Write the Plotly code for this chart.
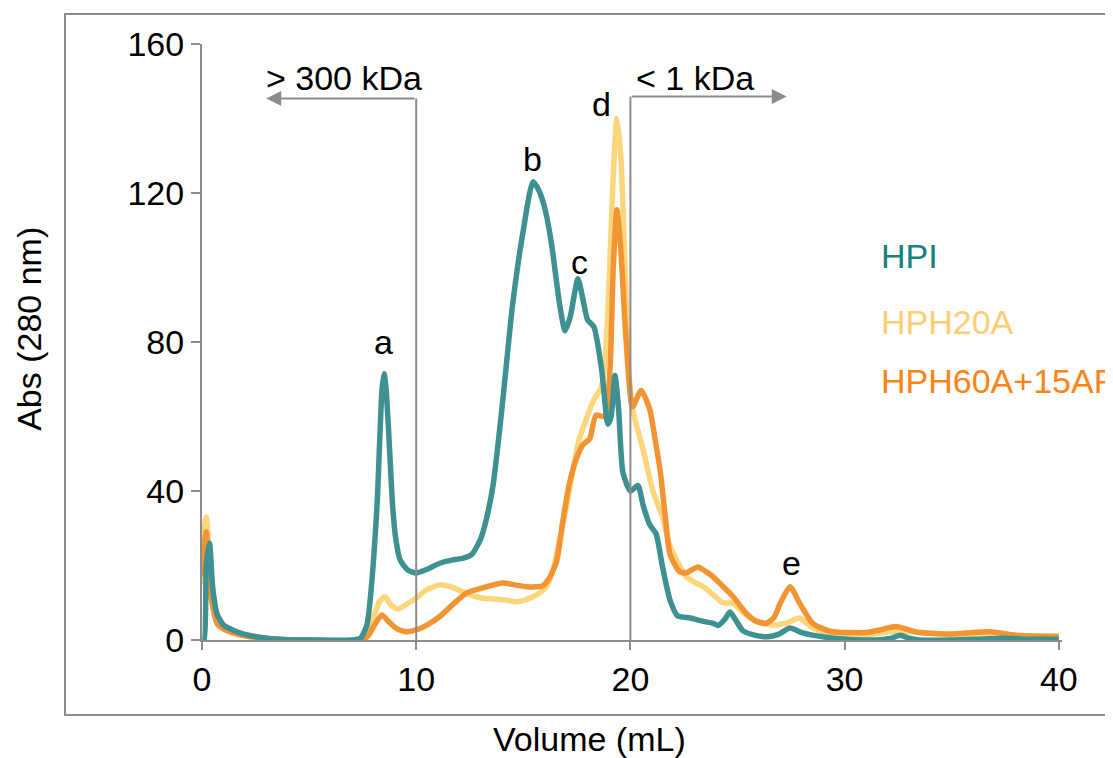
import plotly.graph_objects as go

# ---- data ----
hpi_x = [0.0, 0.1, 0.2, 0.35, 0.5, 0.7, 1.0, 1.5, 2.0, 3.0, 4.0, 5.0, 7.0, 7.4, 7.7, 7.85, 8.17, 8.4, 8.5,
         8.6, 8.75, 8.9, 9.05, 9.25, 9.6, 10.0, 10.5, 11.1, 11.7, 12.2, 12.6, 13.0, 13.3, 13.6, 14.0, 14.5, 15.0,
         15.45, 15.7, 16.0, 16.3, 16.7, 16.95, 17.2, 17.55, 17.8, 18.0, 18.3, 18.65, 18.95, 19.1, 19.28,
         19.45, 19.65, 20.0, 20.35, 20.6, 20.9, 21.2, 21.5, 21.85, 22.2, 22.8, 23.4, 23.85, 24.1, 24.4,
         24.65, 24.9, 25.25, 25.8, 26.4, 26.9, 27.45, 28.0, 28.5, 29.5, 30.5, 31.5, 32.2, 32.6, 33.0, 33.5,
         35.0, 36.5, 37.5, 38.5, 40.0]
hpi_y = [0, 0, 20, 26, 14, 7, 4, 2.5, 1.5, 0.5, 0.1, 0, 0, 0.5, 4, 10.7, 36, 67, 71.5,
         67, 52, 36, 27, 21.5, 18.8, 18, 19, 20.6, 21.5, 22, 23, 27, 33, 42, 62, 90, 110,
         123, 121, 116, 107, 90, 83, 87, 97, 91, 86, 84, 73, 58, 60, 71,
         62, 45, 40, 41.5, 36, 31, 28.5, 19.6, 10.7, 6.5, 5.9, 5, 4.5, 3.9, 5.5,
         7.5, 5.5, 2.5, 1.3, 0.9, 1.5, 3.2, 2.0, 1.3, 0.5, 0.1, 0, 0.5, 1.3, 0.5, 0,
         0, 0.3, 0.5, 0.2, 0.2]

hph20_x = [0.0, 0.1, 0.2, 0.35, 0.5, 0.7, 1.0, 1.5, 2.0, 3.0, 4.0, 5.0, 7.2, 7.6, 8.0, 8.3, 8.55, 8.8, 9.15,
           9.6, 10.0, 10.5, 11.1, 11.6, 12.2, 12.7, 13.1, 13.6, 14.2, 14.7, 15.1, 15.45, 15.8, 16.1, 16.4,
           16.7, 17.0, 17.3, 17.6, 17.95, 18.25, 18.65, 18.85, 19.0, 19.2, 19.37, 19.55, 19.75, 19.9, 20.1,
           20.6, 21.05, 21.5, 21.8, 22.2, 22.6, 23.0, 23.4, 23.9, 24.3, 24.8, 25.3, 25.9, 26.4, 26.8, 27.4,
           27.9, 28.3, 28.7, 29.3, 29.8, 31.0, 31.6, 32.1, 33.0, 33.5, 34.5, 35.7, 37.2, 38.5, 40.0]
hph20_y = [15, 30, 33, 22, 12, 7, 4, 2.2, 1.2, 0.4, 0.1, 0, 0, 1, 6, 10.5, 11.6, 9.5, 8.3,
           9.8, 11.3, 13.5, 14.8, 14.3, 12.9, 11.8, 11.2, 11.0, 10.7, 10.3, 10.8, 11.6, 12.8, 14.5, 19,
           27, 35.5, 45, 53.7, 59.5, 64, 68, 78, 95, 125, 140, 130, 100, 75, 62,
           51, 40, 33, 26, 21, 17, 15.5, 14.3, 12, 10, 9.9, 7.2, 4.9, 4.2, 4.0, 4.8,
           5.9, 4.2, 2.7, 1.8, 1.3, 1.3, 1.8, 2.2, 2.2, 2.0, 1.6, 1.3, 1.0, 0.7, 0.5]

hph60_x = [0.0, 0.1, 0.2, 0.37, 0.7, 1.0, 1.45, 2.0, 2.7, 4.0, 5.0, 7.5, 7.8, 8.1, 8.4, 8.7, 9.1, 9.55,
           10.0, 10.5, 11.1, 11.7, 12.35, 13.1, 14.05, 14.6, 15.15, 15.6, 15.9, 16.2, 16.55, 16.85, 17.15,
           17.5, 17.8, 18.1, 18.4, 18.8, 19.05, 19.2, 19.37, 19.55, 19.8, 20.1, 20.5, 20.9, 21.15, 21.4,
           21.65, 21.85, 22.3, 22.6, 23.15, 23.5, 23.85, 24.3, 24.8, 25.4, 25.9, 26.35, 26.7, 27.0, 27.45,
           27.9, 28.5, 29.0, 29.45, 31.0, 31.65, 32.4, 33.0, 33.5, 34.9, 36.0, 36.8, 38.0, 40.0]
hph60_y = [17, 25, 29, 13.4, 4.5, 3, 1.9, 1.1, 0.6, 0.1, 0, 0, 1.5, 4.5, 6.7, 5, 3, 2.2,
           2.7, 4, 6.3, 9.5, 12.6, 14, 15.3, 14.8, 14.3, 14.3, 14.5, 16.5, 21, 32, 42,
           49, 52.5, 54, 60.4, 60, 73, 100, 115.5, 105, 80.5, 62.6, 67, 62, 54, 45,
           32, 23, 18.3, 18, 19.6, 18.5, 17, 14.5, 11.6, 7.2, 5, 4.5, 6, 9.9, 14.3,
           9.9, 4.5, 3, 2.2, 2.0, 2.7, 3.6, 2.7, 2.0, 1.6, 2.0, 2.2, 1.3, 1.0]

series_names = ["HPI", "HPH20A", "HPH60A+15AF"]
line_colors = ["#3e9190", "#fdd57b", "#f39433"]
label_colors = ["#14827e", "#fdcd72", "#fb8414"]
legend_y = [103, 85.5, 69.5]

peak_labels = ["a", "b", "c", "d", "e"]
peak_x = [8.45, 15.45, 17.64, 18.67, 27.5]
peak_y = [80, 129, 101.5, 143.8, 20.8]

x_ticks = [0, 10, 20, 30, 40]
y_ticks = [0, 40, 80, 120, 160]

FONT = "Liberation Sans, Arial, sans-serif"
GRAY = "#8c8c8c"
FS = 34

fig = go.Figure()
traces = [(hpi_x, hpi_y), (hph20_x, hph20_y), (hph60_x, hph60_y)]
for idx in [1, 2, 0]:
    xs, ys = traces[idx]
    fig.add_trace(go.Scatter(
        x=xs, y=ys, mode="lines", name=series_names[idx],
        line=dict(color=line_colors[idx], width=5.5, shape="spline", smoothing=0.6),
        showlegend=False, hoverinfo="skip"))

annotations = []
# legend as colored text
for name, col, yy in zip(series_names, label_colors, legend_y):
    annotations.append(dict(x=31.62, y=yy, xref="x", yref="y", text=name, showarrow=False,
                            xanchor="left", yanchor="middle",
                            font=dict(family=FONT, size=FS, color=col)))
# peak letters
for t, px, py in zip(peak_labels, peak_x, peak_y):
    annotations.append(dict(x=px, y=py, xref="x", yref="y", text=t, showarrow=False,
                            xanchor="center", yanchor="middle",
                            font=dict(family=FONT, size=FS, color="black")))
# fraction arrows
annotations.append(dict(x=3.0, y=145.4, ax=10, ay=145.4, xref="x", yref="y", axref="x", ayref="y",
                        text="", showarrow=True, arrowhead=2, arrowsize=1.5, arrowwidth=2,
                        arrowcolor=GRAY))
annotations.append(dict(x=27.3, y=145.9, ax=20, ay=145.9, xref="x", yref="y", axref="x", ayref="y",
                        text="", showarrow=True, arrowhead=2, arrowsize=1.5, arrowwidth=2,
                        arrowcolor=GRAY))
annotations.append(dict(x=6.63, y=150.8, xref="x", yref="y", text="> 300 kDa", showarrow=False,
                        xanchor="center", yanchor="middle",
                        font=dict(family=FONT, size=FS, color="black")))
annotations.append(dict(x=23.0, y=150.8, xref="x", yref="y", text="< 1 kDa", showarrow=False,
                        xanchor="center", yanchor="middle",
                        font=dict(family=FONT, size=FS, color="black")))
# axis titles
annotations.append(dict(x=-0.2012, y=0.522, xref="paper", yref="paper", text="Abs (280 nm)",
                        showarrow=False, textangle=-90, xanchor="center", yanchor="middle",
                        font=dict(family=FONT, size=FS, color="black")))
annotations.append(dict(x=0.45, y=-0.166, xref="paper", yref="paper", text="Volume (mL)",
                        showarrow=False, xanchor="center", yanchor="middle",
                        font=dict(family=FONT, size=FS, color="black")))

shapes = [
    dict(type="line", xref="x", yref="y", x0=10, x1=10, y0=0, y1=145.4,
         line=dict(color=GRAY, width=2)),
    dict(type="line", xref="x", yref="y", x0=20, x1=20, y0=0, y1=145.9,
         line=dict(color=GRAY, width=2)),
    dict(type="rect", xref="paper", yref="paper", x0=-0.1593, x1=1.2, y0=-0.1258, y1=1.0503,
         line=dict(color=GRAY, width=2), layer="below"),
]

# page body has an 8px margin, so the figure is shifted by 8px; compensate
fig.update_layout(
    width=1105, height=750,
    margin=dict(l=194, r=51, t=36, b=118, pad=0),
    paper_bgcolor="white", plot_bgcolor="white",
    font=dict(family=FONT, size=FS, color="black"),
    annotations=annotations, shapes=shapes,
    showlegend=False,
)
fig.update_xaxes(range=[0, 40.15], tickvals=x_ticks, ticks="outside", ticklen=8, tickwidth=2,
                 tickcolor=GRAY, showline=True, linecolor=GRAY, linewidth=2, showgrid=False,
                 zeroline=False, tickfont=dict(family=FONT, size=FS, color="black"))
fig.update_yaxes(range=[0, 160], tickvals=y_ticks, ticks="outside", ticklen=9, tickwidth=2,
                 tickcolor=GRAY, showline=True, linecolor=GRAY, linewidth=2, showgrid=False,
                 zeroline=False, tickfont=dict(family=FONT, size=FS, color="black"))

fig.write_html("out.html")
